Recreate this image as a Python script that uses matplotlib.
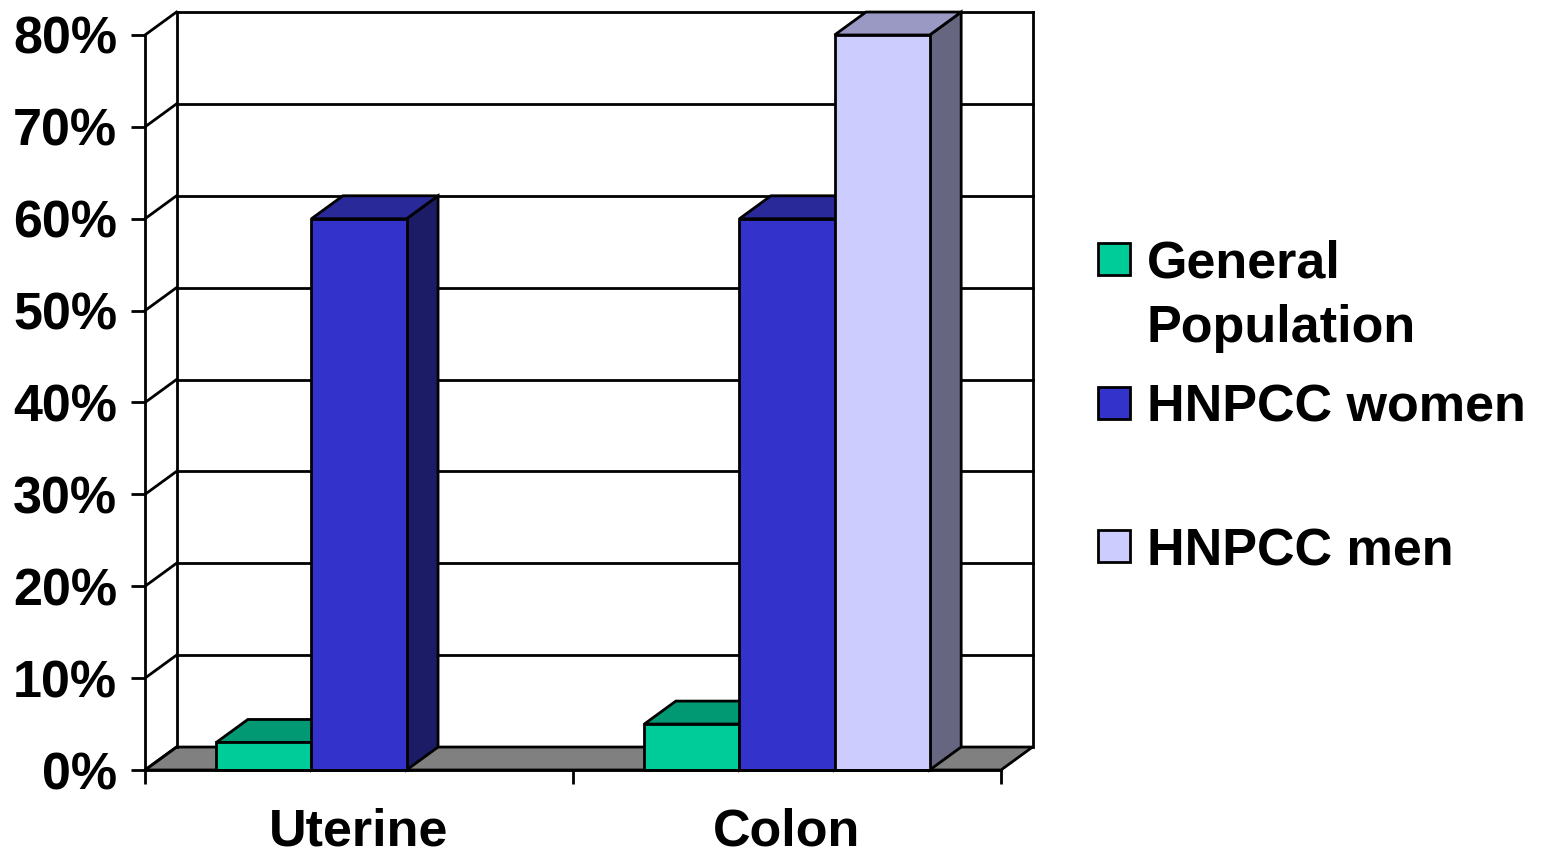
import numpy as np
import matplotlib
matplotlib.use("Agg")
import matplotlib.pyplot as plt
from matplotlib.patches import Polygon, Rectangle

# data (percent)
categories = ["Uterine", "Colon"]
series = ["General Population", "HNPCC women", "HNPCC men"]
general_pop = [3, 5]
hnpcc_women = [60, 60]
hnpcc_men = [np.nan, 80]
y_ticks = [0, 10, 20, 30, 40, 50, 60, 70, 80]

# face colours: front, top, side
front_cols = ["#00CC99", "#3333CC", "#CCCCFF"]
top_cols = ["#009973", "#292999", "#9999C4"]
side_cols = ["#006650", "#1C1C66", "#666680"]

plt.rcParams['font.family'] = ['Liberation Sans', 'DejaVu Sans']
plt.rcParams['font.weight'] = 'bold'

W, H = 1547, 857
fs = 37.5
fig = plt.figure(figsize=(W / 100, H / 100), dpi=100)
# axes placed so the front plane lines up with the reference
ax = fig.add_axes([145 / W, (H - 770) / H, 856 / W, 735 / H])
ax.set_xlim(0, 2)
ax.set_ylim(0, 80)

DX = 0.0736   # depth shift in category units
DY = 2.5      # depth shift in percent units
lw = 2.0
bar_w = 2 / 9
gap = 1 / 6

# floor
ax.add_patch(Polygon([(0, 0), (2, 0), (2 + DX, DY), (DX, DY)], closed=True,
                     facecolor="#808080", edgecolor="black", lw=lw, clip_on=False, zorder=1))
# back wall and side wall lines
for t in y_ticks[1:]:
    ax.plot([DX, 2 + DX], [t + DY, t + DY], color="black", lw=lw, clip_on=False, zorder=1)
for t in y_ticks:
    ax.plot([0, DX], [t, t + DY], color="black", lw=lw, clip_on=False, zorder=1)
ax.plot([DX, DX], [DY, 80 + DY], color="black", lw=lw, clip_on=False, zorder=1)
ax.plot([2 + DX, 2 + DX], [DY, 80 + DY], color="black", lw=lw, clip_on=False, zorder=1)

# bars
values = [general_pop, hnpcc_women, hnpcc_men]
for ci in range(len(categories)):
    for si in range(len(series)):
        v = values[si][ci]
        if np.isnan(v):
            continue
        x0 = ci + gap + si * bar_w
        x1 = x0 + bar_w
        ax.add_patch(Polygon([(x1, 0), (x1 + DX, DY), (x1 + DX, v + DY), (x1, v)], closed=True,
                             facecolor=side_cols[si], edgecolor="black", lw=lw, clip_on=False, zorder=2))
        ax.add_patch(Polygon([(x0, v), (x1, v), (x1 + DX, v + DY), (x0 + DX, v + DY)], closed=True,
                             facecolor=top_cols[si], edgecolor="black", lw=lw, clip_on=False, zorder=2))
        ax.add_patch(Rectangle((x0, 0), bar_w, v, facecolor=front_cols[si],
                               edgecolor="black", lw=lw, clip_on=False, zorder=2))

# axes styling
for s in ["top", "right"]:
    ax.spines[s].set_visible(False)
for s in ["left", "bottom"]:
    ax.spines[s].set_linewidth(lw)
    ax.spines[s].set_zorder(3)
ax.set_facecolor("none")
ax.set_yticks(y_ticks)
ax.set_yticklabels([f"{t}%" for t in y_ticks])
ax.tick_params(axis="y", length=10, width=lw, pad=10, labelsize=fs)
ax.set_xticks([0, 1, 2])
ax.set_xticklabels([])
ax.tick_params(axis="x", which="major", length=10, width=lw)
ax.set_xticks([0.5, 1.5], minor=True)
ax.set_xticklabels(categories, minor=True)
ax.tick_params(axis="x", which="minor", length=0, pad=27, labelsize=fs)

# legend drawn by hand to match spacing
leg_items = [(["General", "Population"], 278), (["HNPCC women"], 421.7), (["HNPCC men"], 565)]
for si, (lines, base) in enumerate(leg_items):
    fig.patches.append(Rectangle((1098 / W, (H - base + 3) / H), 32 / W, 32 / H,
                                 transform=fig.transFigure, facecolor=front_cols[si],
                                 edgecolor="black", lw=lw))
    for li, txt in enumerate(lines):
        fig.text(1147 / W, (H - base - li * 64) / H, txt, fontsize=fs,
                 fontweight="bold", va="baseline", ha="left")

fig.savefig("out.png", dpi=100)
